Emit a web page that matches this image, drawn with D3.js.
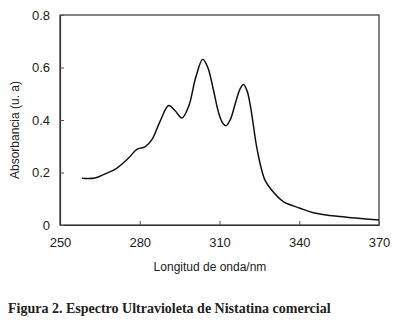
<!DOCTYPE html>
<html>
<head>
<meta charset="utf-8">
<script src="https://cdn.jsdelivr.net/npm/d3@7"></script>
<style>
  body { margin: 0; background: #fff; }
  svg text { font-family: "Liberation Sans", Arial, sans-serif; fill: #222; }
  .caption { font-family: "Liberation Serif", "Times New Roman", serif; font-weight: bold; }
</style>
</head>
<body>
<svg id="chart" width="398" height="327"></svg>
<script>
// spectrum (wavelength nm, absorbance)
const wavelength = [258.2, 263.2, 267, 271.3, 275.7, 278.9, 282.0, 284.5, 287.6, 290.9, 293.3, 295.9, 298.5, 301, 303.7, 305.6, 307.6, 309.6, 311.1, 312.4, 314, 316, 317.6, 319.0, 320.4, 321.6, 322.6, 323.6, 324.6, 325.6, 327.1, 329.6, 334.0, 340.3, 345.3, 355.3, 370];
const absorbance = [0.178, 0.179, 0.195, 0.216, 0.254, 0.288, 0.298, 0.324, 0.394, 0.455, 0.435, 0.408, 0.455, 0.56, 0.631, 0.6, 0.52, 0.43, 0.39, 0.378, 0.4, 0.465, 0.515, 0.535, 0.51, 0.455, 0.39, 0.32, 0.265, 0.22, 0.171, 0.133, 0.089, 0.064, 0.047, 0.032, 0.019];
const xTicks = [250, 280, 310, 340, 370];
const yTicks = [0, 0.2, 0.4, 0.6, 0.8];

const svg = d3.select('#chart');
const margin = { left: 60, top: 15, right: 19, bottom: 102 };
const width = 398 - margin.left - margin.right;
const height = 327 - margin.top - margin.bottom;

const x = d3.scaleLinear().domain([250, 370]).range([0, width]);
const y = d3.scaleLinear().domain([0, 0.8]).range([height, 0]);

const g = svg.append('g').attr('transform', `translate(${margin.left},${margin.top})`);

// frame
g.append('rect')
    .attr('width', width).attr('height', height)
    .attr('fill', 'none').attr('stroke', '#333').attr('stroke-width', 1.2);

// axes with inward ticks
const xAxis = g.append('g').attr('transform', `translate(0,${height})`)
    .call(d3.axisBottom(x).tickValues(xTicks).tickSizeInner(-4).tickSizeOuter(0).tickPadding(13));
const yAxis = g.append('g')
    .call(d3.axisLeft(y).tickValues(yTicks).tickSizeInner(-4).tickSizeOuter(0).tickPadding(10)
        .tickFormat(d => d === 0 ? '0' : d3.format('.1f')(d)));

[xAxis, yAxis].forEach(a => {
    a.select('.domain').attr('stroke', '#333').attr('stroke-width', 1.2);
    a.selectAll('.tick line').attr('stroke', '#555');
    a.selectAll('.tick text').attr('font-size', 13).attr('fill', '#222')
        .style('font-family', '"Liberation Sans", Arial, sans-serif');
});

// curve
const line = d3.line()
    .x((d, i) => x(wavelength[i]))
    .y(d => y(d))
    .curve(d3.curveCatmullRom.alpha(0.5));

g.append('path')
    .datum(absorbance)
    .attr('d', line)
    .attr('fill', 'none')
    .attr('stroke', '#111')
    .attr('stroke-width', 1.5);

// axis titles
svg.append('text')
    .attr('x', 210).attr('y', 271)
    .attr('text-anchor', 'middle').attr('font-size', 12)
    .text('Longitud de onda/nm');

svg.append('text')
    .attr('transform', 'translate(19,130) rotate(-90)')
    .attr('text-anchor', 'middle').attr('font-size', 12)
    .text('Absorbancia (u. a)');

// caption
svg.append('text')
    .attr('class', 'caption')
    .attr('x', 8).attr('y', 313)
    .attr('font-size', 14)
    .text('Figura 2. Espectro Ultravioleta de Nistatina comercial');
</script>
</body>
</html>
